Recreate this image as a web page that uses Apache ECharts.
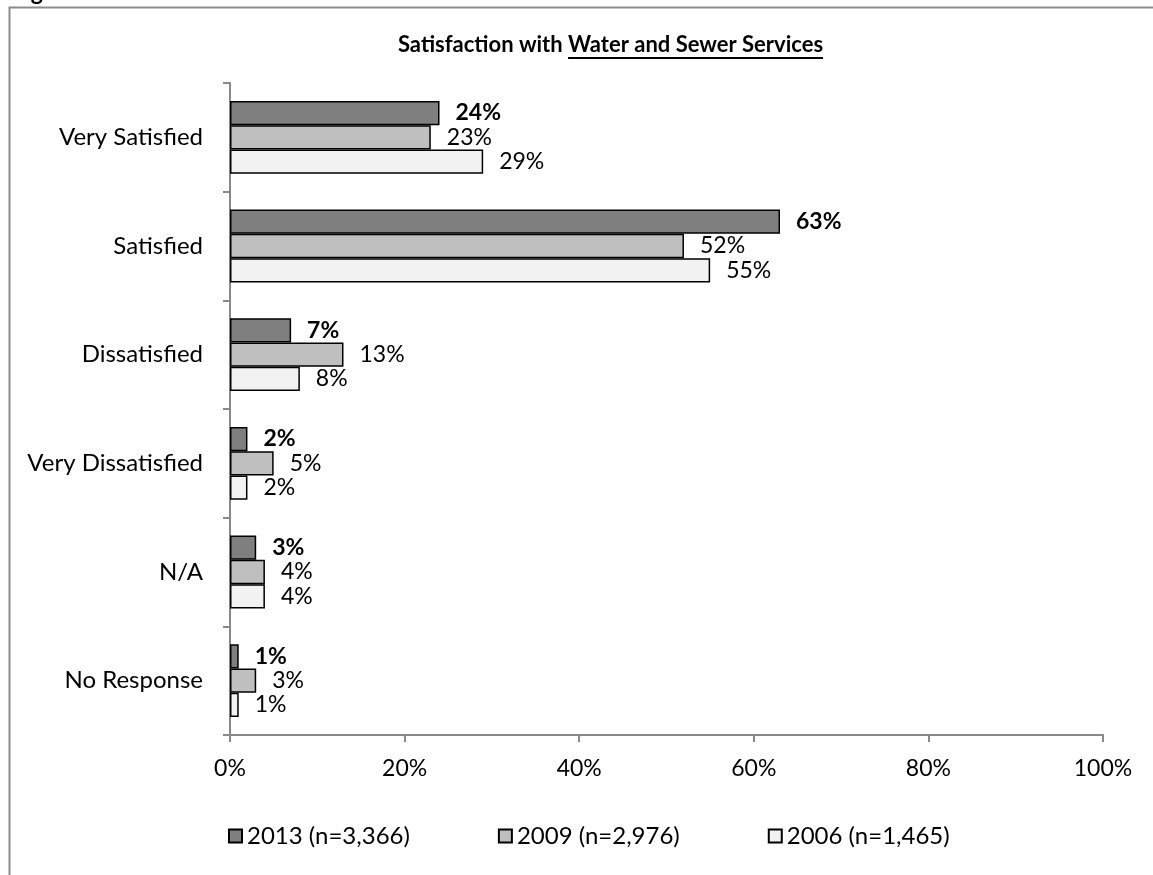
<!DOCTYPE html>
<html>
<head>
<meta charset="utf-8">
<script src="https://cdn.jsdelivr.net/npm/echarts@6/dist/echarts.min.js"></script>
<style>
html,body{margin:0;padding:0;background:#fff;}
#chart{width:1153px;height:875px;}
</style>
</head>
<body>
<div id="chart"></div>
<script>
const categories = ['Very Satisfied', 'Satisfied', 'Dissatisfied', 'Very Dissatisfied', 'N/A', 'No Response'];
const seriesNames = ['2013 (n=3,366)', '2009 (n=2,976)', '2006 (n=1,465)'];
const values2013 = [24, 63, 7, 2, 3, 1];
const values2009 = [23, 52, 13, 5, 4, 3];
const values2006 = [29, 55, 8, 2, 4, 1];
const xTicks = [0, 20, 40, 60, 80, 100];

const FONT = 'Lato, "Open Sans", sans-serif';
const FS = 23;
const FS_CAT = 24;
const titlePlain = 'Satisfaction with ';
const titleUnder = 'Water and Sewer Services';
const titleSize = 22;
const titleCx = 610.5;
const titleTop = 34;

// measure text for underline placement
const cv = document.createElement('canvas').getContext('2d');
cv.font = 'bold ' + titleSize + 'px Lato';
const wPlain = cv.measureText(titlePlain).width;
const wUnder = cv.measureText(titleUnder).width;
const wAll = wPlain + wUnder;
const titleX0 = titleCx - wAll / 2;
const ulX1 = titleX0 + wPlain;
const ulX2 = titleX0 + wAll;
const ulY = 58;

const colors = ['#7f7f7f', '#bfbfbf', '#f2f2f2'];
const dataSets = [values2013, values2009, values2006];

const chart = echarts.init(document.getElementById('chart'), null, {renderer: 'canvas'});
const option = {
  animation: false,
  backgroundColor: '#ffffff',
  legend: {
    data: seriesNames,
    top: 819,
    left: 223,
    itemWidth: 13,
    itemHeight: 13,
    itemGap: 88,
    icon: 'rect',
    textStyle: { fontFamily: FONT, fontSize: FS_CAT, color: '#000' }
  },
  grid: { left: 230, right: 50, top: 83, bottom: 140, containLabel: false },
  xAxis: {
    type: 'value',
    min: 0, max: 100, interval: 20,
    axisLine: { show: true, lineStyle: { color: '#898989', width: 2 } },
    axisTick: { show: true, length: 7, lineStyle: { color: '#898989', width: 2 } },
    splitLine: { show: false },
    axisLabel: {
      formatter: v => xTicks.includes(v) ? v + '%' : '',
      fontFamily: FONT, fontSize: FS, color: '#000', margin: 22
    }
  },
  yAxis: {
    type: 'category',
    data: categories,
    inverse: true,
    axisLine: { show: true, lineStyle: { color: '#898989', width: 2 } },
    axisTick: { show: true, length: 7, alignWithLabel: false, lineStyle: { color: '#898989', width: 2 } },
    axisLabel: { fontFamily: FONT, fontSize: FS_CAT, color: '#000', margin: 27 }
  },
  series: dataSets.map((d, i) => ({
    name: seriesNames[i],
    type: 'bar',
    data: d,
    barGap: '0%',
    barCategoryGap: '33%',
    itemStyle: { color: colors[i], borderColor: '#000', borderWidth: 1.5 },
    label: {
      show: true,
      position: 'right',
      distance: 16,
      formatter: p => p.value + '%',
      fontFamily: FONT,
      fontSize: FS,
      fontWeight: i === 0 ? 'bold' : 'normal',
      color: '#000'
    }
  })),
  graphic: [
    { type: 'rect', z: -1, silent: true, shape: { x: 9.5, y: 7.5, width: 1300, height: 1000 }, style: { fill: null, stroke: '#8c8c8c', lineWidth: 2 } },
    { type: 'text', silent: true, x: 12, y: -19, style: { text: 'Figure', fontFamily: FONT, fontWeight: 'bold', fontSize: 23, fill: '#000' } },
    { type: 'text', silent: true, x: titleX0, y: titleTop, style: { text: titlePlain + titleUnder, fontFamily: FONT, fontWeight: 'bold', fontSize: titleSize, fill: '#000', textAlign: 'left', textVerticalAlign: 'top' } },
    { type: 'line', silent: true, shape: { x1: ulX1, y1: ulY, x2: ulX2, y2: ulY }, style: { stroke: '#000', lineWidth: 2 } }
  ]
};
chart.setOption(option);
</script>
</body>
</html>
